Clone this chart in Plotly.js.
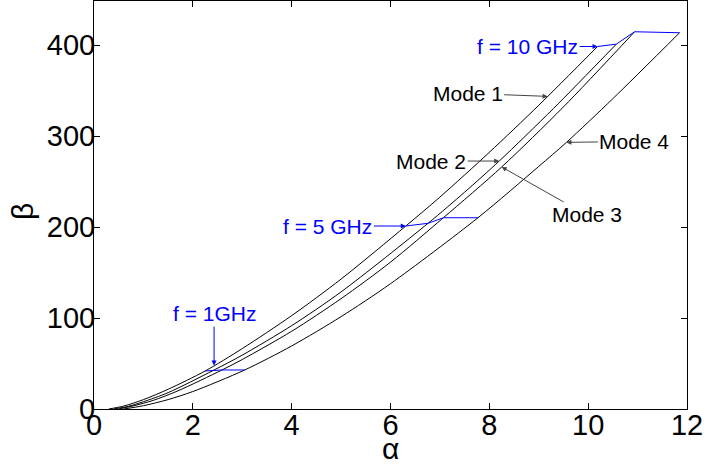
<!DOCTYPE html>
<html>
<head>
<meta charset="utf-8">
<script src="https://cdn.plot.ly/plotly-3.0.1.min.js"></script>
<style>html,body{margin:0;padding:0;background:#fff}</style>
</head>
<body>
<div id="chart" style="width:705px;height:471px"></div>
<script>
// Dispersion curves: phase constant beta vs attenuation alpha for four modes
const mode1Alpha = [0.30, 0.6, 1.0, 1.5, 2.25, 3.0, 4.0, 5.0, 6.31, 7.0, 8.0, 9.0, 10.19];
const mode1Beta  = [0, 3.2, 10.3, 21.7, 41.8, 66.4, 102.6, 142.8, 201.1, 232.9, 282.1, 333.8, 398.4];

const mode2Alpha = [0.40, 0.7, 1.0, 1.5, 2.41, 3.0, 4.0, 5.0, 6.76, 7.5, 8.21, 9.3, 10.57];
const mode2Beta  = [0, 3.0, 8.0, 18.0, 42.3, 59.2, 91.6, 128.7, 204.1, 238.3, 273.0, 330.4, 401.0];

const mode3Alpha = [0.50, 0.8, 1.2, 1.7, 2.59, 3.0, 4.0, 5.0, 6.0, 7.07, 8.25, 9.5, 10.94];
const mode3Beta  = [0, 3.5, 9.5, 20.0, 42.9, 54.4, 85.4, 121.3, 161.4, 210.2, 266.0, 332.0, 414.6];

const mode4Alpha = [0.60, 1.0, 1.5, 2.0, 3.05, 4.0, 5.0, 6.0, 7.77, 9.0, 9.56, 10.5, 11.85];
const mode4Beta  = [0, 3.6, 10.35, 19.2, 42.9, 69.3, 101.5, 137.7, 210.2, 266.6, 293.0, 341.1, 413.5];

// Constant-frequency cuts across the four modes (modes 1..4)
const f1Alpha  = [2.25, 2.41, 2.59, 3.05];
const f1Beta   = [41.8, 42.3, 42.9, 42.9];
const f5Alpha  = [6.31, 6.76, 7.07, 7.77];
const f5Beta   = [201.1, 204.1, 210.2, 210.2];
const f10Alpha = [10.19, 10.57, 10.94, 11.85];
const f10Beta  = [398.4, 401.0, 414.6, 413.5];

const xTicks = [0, 2, 4, 6, 8, 10, 12];
const yTicks = [0, 100, 200, 300, 400];

const modes = [
  [mode1Alpha, mode1Beta],
  [mode2Alpha, mode2Beta],
  [mode3Alpha, mode3Beta],
  [mode4Alpha, mode4Beta]
];

const traces = [];
modes.forEach(function (m) {
  traces.push({
    x: m[0], y: m[1], type: 'scatter', mode: 'lines',
    line: {color: '#000', width: 1, shape: 'spline', smoothing: 0.8},
    hoverinfo: 'skip', showlegend: false
  });
});
[[f1Alpha, f1Beta], [f5Alpha, f5Beta], [f10Alpha, f10Beta]].forEach(function (c) {
  traces.push({
    x: c[0], y: c[1], type: 'scatter', mode: 'lines',
    line: {color: '#0000ff', width: 1},
    hoverinfo: 'skip', showlegend: false
  });
});

// linear lookup of beta on a curve at a given alpha
function betaAt(xs, ys, a) {
  for (let i = 1; i < xs.length; i++) {
    if (a <= xs[i]) {
      const t = (a - xs[i - 1]) / (xs[i] - xs[i - 1]);
      return ys[i - 1] + t * (ys[i] - ys[i - 1]);
    }
  }
  return ys[ys.length - 1];
}

const font = 'Liberation Sans, Arial, Helvetica, sans-serif';
const blue = '#0000ff';

function ann(text, x, y, ax, ay, color, arrowColor) {
  return {
    text: text, x: x, y: y, xref: 'x', yref: 'y', ax: ax, ay: ay,
    showarrow: true, arrowhead: 2, arrowsize: 1, arrowwidth: 1,
    arrowcolor: arrowColor, standoff: 0, startstandoff: 0,
    font: {family: font, size: 21, color: color}
  };
}

const annotations = [
  ann('f = 10 GHz', f10Alpha[0], f10Beta[0], -70, 0, blue, blue),
  ann('f = 5 GHz', f5Alpha[0], f5Beta[0], -78, 0, blue, blue),
  ann('f = 1GHz', 2.43, betaAt(mode1Alpha, mode1Beta, 2.43), 0, -52, blue, blue),
  ann('Mode 1', 9.18, betaAt(mode1Alpha, mode1Beta, 9.18), -80, -3, '#000', '#444'),
  ann('Mode 2', 8.2, betaAt(mode2Alpha, mode2Beta, 8.2), -68, 0, '#000', '#444'),
  ann('Mode 3', 8.25, betaAt(mode3Alpha, mode3Beta, 8.25), 85, 48, '#000', '#444'),
  ann('Mode 4', 9.56, betaAt(mode4Alpha, mode4Beta, 9.56), 68, -1, '#000', '#444'),
  // axis names, placed just under / left of the tick labels
  {text: 'α', xref: 'paper', yref: 'paper', x: 0.5, y: 0, xanchor: 'center', yanchor: 'middle',
   yshift: -39, showarrow: false, font: {family: font, size: 30, color: '#000'}},
  {text: 'β', xref: 'paper', yref: 'paper', x: 0, y: 0.5, xanchor: 'center', yanchor: 'middle',
   xshift: -72, yshift: -7, textangle: -90, showarrow: false,
   font: {family: font, size: 30, color: '#000'}}
];

const axisCommon = {
  showline: true, mirror: 'ticks', linecolor: '#000', linewidth: 1,
  ticks: 'inside', ticklen: 6, tickcolor: '#000', tickwidth: 1,
  showgrid: false, zeroline: false,
  tickfont: {family: font, size: 29, color: '#000'}
};

const layout = {
  width: 705, height: 471,
  margin: {l: 94, r: 18, t: 1, b: 62},
  paper_bgcolor: '#fff', plot_bgcolor: '#fff',
  xaxis: Object.assign({}, axisCommon, {
    range: [0, 12], tickvals: xTicks, ticktext: xTicks.map(String),
    ticklabelstandoff: -10
  }),
  yaxis: Object.assign({}, axisCommon, {
    range: [0, 448.4], tickvals: yTicks, ticktext: yTicks.map(String),
    ticklabelstandoff: -8
  }),
  annotations: annotations,
  showlegend: false
};

Plotly.newPlot('chart', traces, layout, {staticPlot: true, displayModeBar: false});
</script>
</body>
</html>
